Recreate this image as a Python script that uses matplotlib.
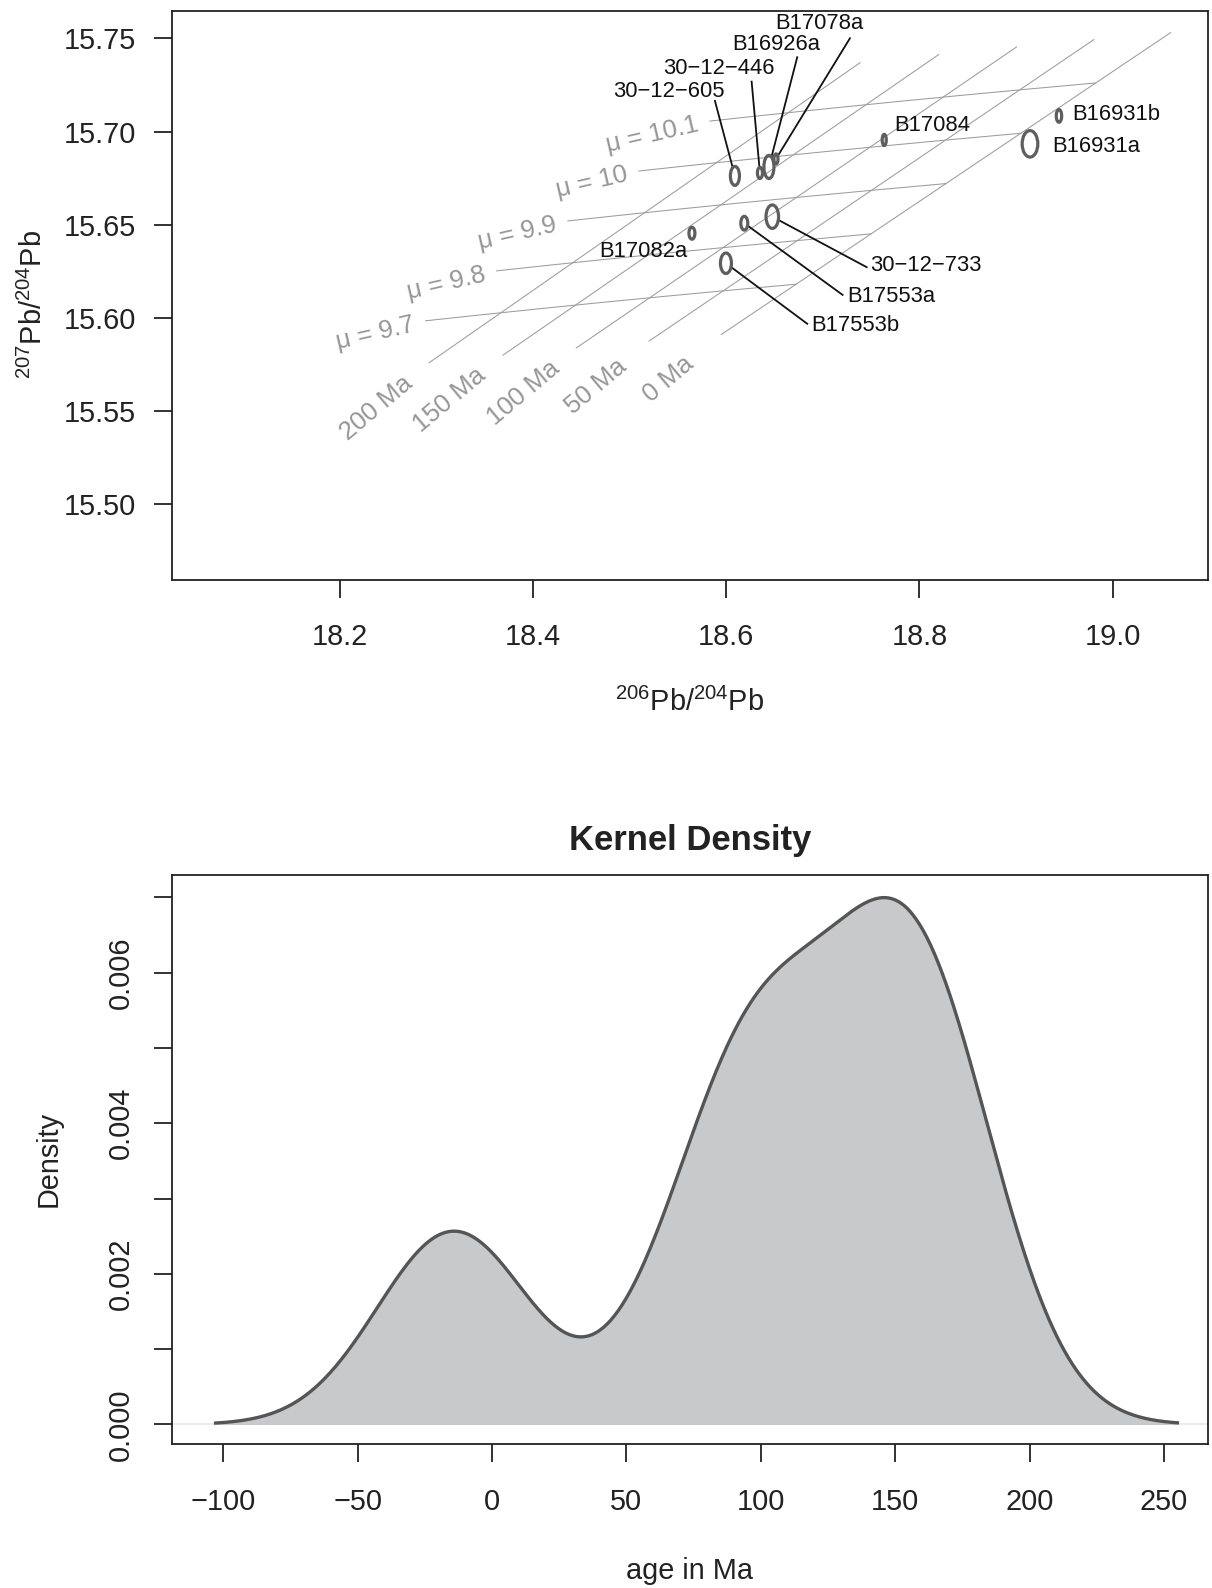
import numpy as np
import matplotlib
matplotlib.use("Agg")
import matplotlib.pyplot as plt
from matplotlib.patches import Ellipse

plt.rcParams["font.family"] = ["Liberation Sans", "DejaVu Sans"]
plt.rcParams["mathtext.fontset"] = "custom"
plt.rcParams["mathtext.rm"] = "Liberation Sans"
plt.rcParams["mathtext.it"] = "Liberation Sans:italic"
plt.rcParams["mathtext.bf"] = "Liberation Sans:bold"

# ---------------------------------------------------------------- data
aliquots = ["30\u221212\u2212605", "30\u221212\u2212446", "B16926a", "B17078a",
            "B17084", "B17082a", "B17553a", "30\u221212\u2212733", "B17553b",
            "B16931b", "B16931a"]
pb206_204 = [18.6089, 18.6348, 18.6441, 18.6514, 18.7635, 18.5644,
             18.6186, 18.6476, 18.5996, 18.9444, 18.9144]
pb207_204 = [15.6762, 15.6778, 15.6810, 15.6853, 15.6955, 15.6454,
             15.6508, 15.6543, 15.6293, 15.7084, 15.6934]
err206 = [0.0047, 0.0026, 0.0052, 0.0021, 0.0021, 0.0031,
          0.0036, 0.0065, 0.0057, 0.0028, 0.0081]
err207 = [0.0051, 0.0030, 0.0062, 0.0027, 0.0030, 0.0032,
          0.0037, 0.0063, 0.0055, 0.0034, 0.0071]

# Stacey & Kramers (1975) second-stage growth model
SK_T0 = 3700.0          # Ma
SK_A0 = 11.152          # 206Pb/204Pb at T0
SK_B0 = 12.998          # 207Pb/204Pb at T0
U238_U235 = 137.88
LAMBDA238 = 1.55125e-4  # 1/Ma
LAMBDA235 = 9.8485e-4   # 1/Ma

grid_mu = [9.7, 9.8, 9.9, 10.0, 10.1]
grid_ages = [0, 50, 100, 150, 200]

x_ticks = [18.2, 18.4, 18.6, 18.8, 19.0]
y_ticks = [15.50, 15.55, 15.60, 15.65, 15.70, 15.75]
age_ticks = [-100, -50, 0, 50, 100, 150, 200, 250]
dens_ticks = [0.000, 0.002, 0.004, 0.006]
dens_minor = [0.001, 0.003, 0.005, 0.007]

# label placement (text centre, start of leader line) in data units
label_layout = {
    "30\u221212\u2212605": ((18.5406, 15.7214), (18.5882, 15.7165)),
    "30\u221212\u2212446": ((18.5924, 15.7339), (18.6262, 15.7268)),
    "B16926a": ((18.6514, 15.7465), (18.6734, 15.7399)),
    "B17078a": ((18.6959, 15.7578), (18.7280, 15.7501)),
    "B17084": ((18.8134, 15.7032), None),
    "B17082a": ((18.5142, 15.6357), None),
    "B17553a": ((18.7705, 15.6115), (18.7204, 15.6123)),
    "30\u221212\u2212733": ((18.8067, 15.6279), (18.7453, 15.6272)),
    "B17553b": ((18.7332, 15.5957), (18.6838, 15.5968)),
    "B16931b": ((19.0034, 15.7089), None),
    "B16931a": ((18.9827, 15.6919), None),
}


# ---------------------------------------------------------------- model
def sk_point(mu, t):
    mu = np.asarray(mu, float)
    t = np.asarray(t, float)
    x = SK_A0 + mu * (np.exp(LAMBDA238 * SK_T0) - np.exp(LAMBDA238 * t))
    y = SK_B0 + mu / U238_U235 * (np.exp(LAMBDA235 * SK_T0) - np.exp(LAMBDA235 * t))
    return x, y


def sk_slope(t):
    num = (np.exp(LAMBDA235 * SK_T0) - np.exp(LAMBDA235 * t)) / U238_U235
    den = np.exp(LAMBDA238 * SK_T0) - np.exp(LAMBDA238 * t)
    return num / den


def model_age(x, y):
    target = (y - SK_B0) / (x - SK_A0)
    lo, hi = -1000.0, 3000.0
    for _ in range(200):
        mid = 0.5 * (lo + hi)
        if sk_slope(mid) < target:
            lo = mid
        else:
            hi = mid
    return 0.5 * (lo + hi)


ages = np.array([model_age(x, y) for x, y in zip(pb206_204, pb207_204)])

# Gaussian kernel density with the nrd0 bandwidth rule
n = len(ages)
q75, q25 = np.percentile(ages, [75, 25])
bw = 0.9 * min(np.std(ages, ddof=1), (q75 - q25) / 1.34) * n ** -0.2
age_grid = np.linspace(ages.min() - 3 * bw, ages.max() + 3 * bw, 512)
dens = np.exp(-0.5 * ((age_grid[:, None] - ages[None, :]) / bw) ** 2).sum(axis=1)
dens /= n * bw * np.sqrt(2 * np.pi)

# ---------------------------------------------------------------- figure
W, H = 1212, 1588
fig = plt.figure(figsize=(W / 100, H / 100), dpi=100)


def fx(px):
    return px / W


def fy(py):
    return 1 - py / H


ink = "#222222"
grid_col = "#9c9c9c"
label_grey = "#969696"
ell_col = "#5e5e5e"

ax1 = fig.add_axes([fx(172), fy(579.5), fx(1036), 569 / H])
ax2 = fig.add_axes([fx(172), fy(1444.3), fx(1036), 569.8 / H])

for ax in (ax1, ax2):
    for s in ax.spines.values():
        s.set_linewidth(1.3)
        s.set_color(ink)
    ax.tick_params(length=13.2, width=1.3, color=ink, labelcolor=ink,
                   labelsize=20.8)

# ---- growth curve grid
t_dense = np.linspace(0, 250, 200)
for mu in grid_mu:
    gx, gy = sk_point(mu, t_dense)
    ax1.plot(gx, gy, color=grid_col, lw=0.75, zorder=1)
    ax1.annotate(f"\u03bc = {mu:g}", xy=(gx[-1], gy[-1]), xytext=(-8.3, -2.2),
                 textcoords="offset points", ha="right", va="center",
                 rotation=13, rotation_mode="anchor", color=label_grey,
                 fontsize=18.5)

mu_span = np.array([9.6, 10.2])
for t in grid_ages:
    ix, iy = sk_point(mu_span, t)
    ax1.plot(ix, iy, color=grid_col, lw=0.75, zorder=1)
    ax1.annotate(f"{t:g} Ma", xy=(ix[0], iy[0]), xytext=(-38.2, -32.5),
                 textcoords="offset points", ha="center", va="center",
                 rotation=40, rotation_mode="anchor", color=label_grey,
                 fontsize=18.5)

# ---- error ellipses, labels and leader lines
for name, x, y, ex, ey in zip(aliquots, pb206_204, pb207_204, err206, err207):
    ax1.add_patch(Ellipse((x, y), 2 * ex, 2 * ey, fill=False,
                          edgecolor=ell_col, lw=2.3, zorder=3))
    (tx, ty), lead = label_layout[name]
    ax1.text(tx, ty, name, ha="center", va="center", fontsize=15.8,
             color="#111111", zorder=4)
    if lead is not None:
        dx, dy = lead[0] - x, lead[1] - y
        k = 1.0 / np.sqrt((dx / ex) ** 2 + (dy / ey) ** 2)
        ax1.plot([lead[0], x + k * dx], [lead[1], y + k * dy],
                 color="#111111", lw=1.3, zorder=2)

ax1.set_xlim(18.0261, 19.0987)
ax1.set_ylim(15.4595, 15.7650)
ax1.set_xticks(x_ticks)
ax1.set_xticklabels([f"{v:.1f}" for v in x_ticks])
ax1.set_yticks(y_ticks)
ax1.set_yticklabels([f"{v:.2f}" for v in y_ticks])
ax1.tick_params(axis="x", pad=18)
ax1.tick_params(axis="y", pad=12.5)

fig.text(fx(690), fy(711), r"$^{206}$Pb/$^{204}$Pb", ha="center",
         va="baseline", fontsize=20.8, color=ink)
fig.text(fx(42), fy(304), r"$^{207}$Pb/$^{204}$Pb", ha="center",
         va="baseline", rotation=90, rotation_mode="anchor",
         fontsize=20.8, color=ink)

# ---- kernel density
ax2.axhline(0, color="#ebebeb", lw=1.3, zorder=1)
ax2.fill_between(age_grid, 0, dens, color="#c8c9cb", lw=0, zorder=2)
ax2.plot(age_grid, dens, color="#555555", lw=2.4, zorder=3)
ax2.set_xlim(-119.08, 266.4)
ax2.set_ylim(-0.000263, 0.007304)
ax2.set_xticks(age_ticks)
ax2.set_xticklabels([f"{v:d}".replace("-", "\u2212") for v in age_ticks])
ax2.set_yticks(dens_ticks)
ax2.set_yticklabels([f"{v:.3f}" for v in dens_ticks], rotation=90,
                    va="center")
ax2.set_yticks(dens_minor, minor=True)
ax2.tick_params(axis="y", which="minor", length=13.2, width=1.3, color=ink)
ax2.tick_params(axis="x", pad=18)
ax2.tick_params(axis="y", pad=13.7)

fig.text(fx(690), fy(850), "Kernel Density", ha="center", va="baseline",
         fontsize=24.9, fontweight="bold", color=ink)
fig.text(fx(690), fy(1579), "age in Ma", ha="center", va="baseline",
         fontsize=20.8, color=ink)
fig.text(fx(57), fy(1159.4), "Density", ha="center", va="baseline",
         rotation=90, rotation_mode="anchor", fontsize=20.8, color=ink)

fig.savefig("out.png", dpi=100, facecolor="white")
